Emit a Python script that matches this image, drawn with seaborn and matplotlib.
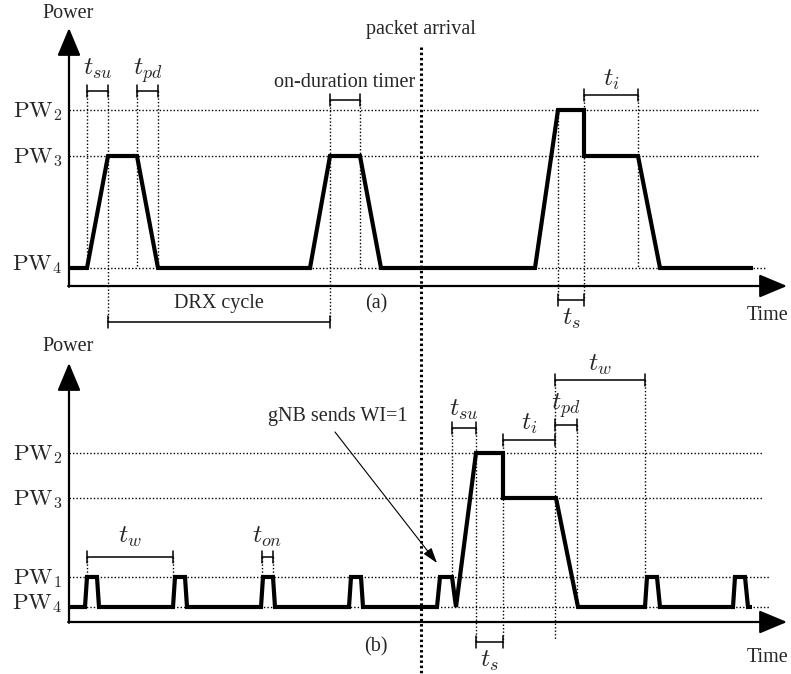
import matplotlib
matplotlib.use("Agg")
import matplotlib.pyplot as plt
import seaborn as sns
import pandas as pd

# ---------------------------------------------------------------
# Power-state timelines (time in drawing units, power as a level)
# ---------------------------------------------------------------
# (a) DRX cycling, then a packet arrives and the UE serves it
a_time = [69, 87, 108, 137, 158, 310, 330, 360, 381, 535, 558, 584, 584, 638, 660, 753]
a_level = ["PW4", "PW4", "PW3", "PW3", "PW4", "PW4", "PW3", "PW3", "PW4",
           "PW4", "PW2", "PW2", "PW3", "PW3", "PW4", "PW4"]

# (b) wake-up signal monitoring, WI=1 triggers the full wake-up
b_time = [69,
          85, 87, 97, 99,
          173, 175, 185, 187,
          261, 263, 273, 275,
          349, 351, 361, 363,
          437, 440, 452, 456,
          476, 503, 503, 556, 578,
          645, 647, 657, 660,
          733, 735, 745, 748,
          752]
b_level = ["PW4",
           "PW4", "PW1", "PW1", "PW4",
           "PW4", "PW1", "PW1", "PW4",
           "PW4", "PW1", "PW1", "PW4",
           "PW4", "PW1", "PW1", "PW4",
           "PW4", "PW1", "PW1", "PW4",
           "PW2", "PW2", "PW3", "PW3", "PW4",
           "PW4", "PW1", "PW1", "PW4",
           "PW4", "PW1", "PW1", "PW4",
           "PW4"]

level_labels = {"PW1": r"$\mathrm{PW}_1$", "PW2": r"$\mathrm{PW}_2$",
                "PW3": r"$\mathrm{PW}_3$", "PW4": r"$\mathrm{PW}_4$"}

# timing intervals: (start, end, label)
a_intervals = [(87, 108, r"$t_{su}$"), (137, 158, r"$t_{pd}$"),
               (330, 360, "on-duration timer"), (584, 638, r"$t_i$"),
               (558, 584, r"$t_s$"), (108, 330, "DRX cycle")]
b_intervals = [(87, 173, r"$t_w$"), (262, 273, r"$t_{on}$"),
               (452, 476, r"$t_{su}$"), (503, 555, r"$t_i$"),
               (555, 577, r"$t_{pd}$"), (555, 645, r"$t_w$"),
               (476, 503, r"$t_s$")]

# ---------------------------------------------------------------
sns.set_style("white")
plt.rcParams["font.family"] = ["Liberation Serif", "DejaVu Serif"]
plt.rcParams["mathtext.fontset"] = "cm"

fig = plt.figure(figsize=(7.91, 6.74), dpi=100)
ax = fig.add_axes([0, 0, 1, 1])
ax.set_xlim(0, 791)
ax.set_ylim(674, 0)
ax.axis("off")

# panel geometry (vertical position of each power level)
panel_a = {"levels": {"PW2": 110, "PW3": 156, "PW4": 268},
           "x_axis": 286, "y_top": 28}
panel_b = {"levels": {"PW2": 453, "PW3": 498, "PW1": 577, "PW4": 607},
           "x_axis": 622, "y_top": 363}
X0 = 69
X_END = 787
TEXT_FS = 14.5
MATH_FS = 18.5

THIN_DOT = dict(color="black", lw=1.0, linestyle=(0, (1, 1.5)))


def draw_axes(p, power_y, time_y):
    head = "-|>,head_length=0.86,head_width=0.36"
    ax.annotate("", xy=(X0, p["y_top"]), xytext=(X0, p["x_axis"] + 0.8),
                arrowprops=dict(arrowstyle=head, lw=1.6, color="black",
                                shrinkA=0, shrinkB=0, mutation_scale=20))
    ax.annotate("", xy=(X_END, p["x_axis"]), xytext=(X0 - 0.8, p["x_axis"]),
                arrowprops=dict(arrowstyle=head, lw=1.6, color="black",
                                shrinkA=0, shrinkB=0, mutation_scale=20))
    ax.text(68, power_y, "Power", ha="center", va="baseline", fontsize=TEXT_FS)
    ax.text(788, time_y, "Time", ha="right", va="baseline", fontsize=TEXT_FS)


def draw_levels(p, ends):
    for name, y in p["levels"].items():
        ax.plot([X0, ends[name]], [y, y], **THIN_DOT, zorder=1)
        off = 2 if name == "PW4" else 7
        ax.text(62, y + off, level_labels[name], ha="right", va="baseline",
                fontsize=16.5)


def draw_wave(times, levels, p):
    df = pd.DataFrame({"t": times, "power": [p["levels"][l] for l in levels]})
    sns.lineplot(data=df, x="t", y="power", sort=False, estimator=None,
                 color="black", lw=3.0, ax=ax, zorder=4)
    ax.lines[-1].set_solid_joinstyle("miter")
    ax.lines[-1].set_solid_capstyle("butt")


def draw_interval(x0, x1, y, label, label_y, fontsize):
    ax.plot([x0, x1], [y, y], color="black", lw=1.1, zorder=3)
    for x in (x0, x1):
        ax.plot([x, x], [y - 6, y + 6], color="black", lw=1.1, zorder=3)
    ax.text((x0 + x1) / 2, label_y, label, ha="center", va="baseline",
            fontsize=fontsize)


def guides(items):
    for x, y0, y1 in items:
        ax.plot([x, x], [y0, y1], **THIN_DOT, zorder=1)


# ---------------- panel (a) ----------------
draw_axes(panel_a, 18, 320)
draw_levels(panel_a, {"PW2": 760, "PW3": 760, "PW4": 767})
guides([(87, 91, 268), (108, 91, 322), (137, 91, 268), (158, 91, 268),
        (330, 100, 322), (360, 100, 268), (558, 110, 300), (584, 95, 300),
        (638, 95, 268)])
draw_wave(a_time, a_level, panel_a)

a_rows = {  # bracket height and label baseline for each interval
    r"$t_{su}$": (91, 75), r"$t_{pd}$": (91, 75),
    "on-duration timer": (100, 87), r"$t_i$": (95, 86),
    r"$t_s$": (300, 325), "DRX cycle": (322, 308)}
for x0, x1, lab in a_intervals:
    y, ly = a_rows[lab]
    fs = TEXT_FS if lab[0] != "$" else MATH_FS
    draw_interval(x0, x1, y, lab, ly, fs)
ax.text(376, 308, "(a)", ha="center", va="baseline", fontsize=TEXT_FS)

# ---------------- panel (b) ----------------
draw_axes(panel_b, 351, 662)
draw_levels(panel_b, {"PW2": 762, "PW3": 762, "PW1": 770, "PW4": 770})
guides([(87, 557, 577), (173, 557, 577), (262, 557, 577), (273, 557, 577),
        (452, 428, 577), (476, 428, 642), (503, 440, 642), (555, 380, 640),
        (577, 425, 607), (645, 380, 577)])
draw_wave(b_time, b_level, panel_b)

b_rows = [(557, 543), (557, 543), (428, 416), (440, 430), (425, 410),
          (380, 371), (642, 667)]
for (x0, x1, lab), (y, ly) in zip(b_intervals, b_rows):
    draw_interval(x0, x1, y, lab, ly, MATH_FS)
ax.text(376, 651, "(b)", ha="center", va="baseline", fontsize=TEXT_FS)

# wake-up indication annotation
ax.text(338, 421, "gNB sends WI=1", ha="center", va="baseline", fontsize=TEXT_FS)
ax.annotate("", xy=(437, 563), xytext=(335, 432),
            arrowprops=dict(arrowstyle="-|>,head_length=0.94,head_width=0.3",
                            lw=0.8, color="black", shrinkA=0, shrinkB=0,
                            mutation_scale=10))

# ---------------- packet arrival marker ----------------
ax.plot([421, 421], [47, 674], color="black", lw=2.2,
        linestyle=(0, (0.8, 0.9)), zorder=2)
ax.text(421, 34, "packet arrival", ha="center", va="baseline", fontsize=TEXT_FS)

fig.savefig("out.png", dpi=100)
